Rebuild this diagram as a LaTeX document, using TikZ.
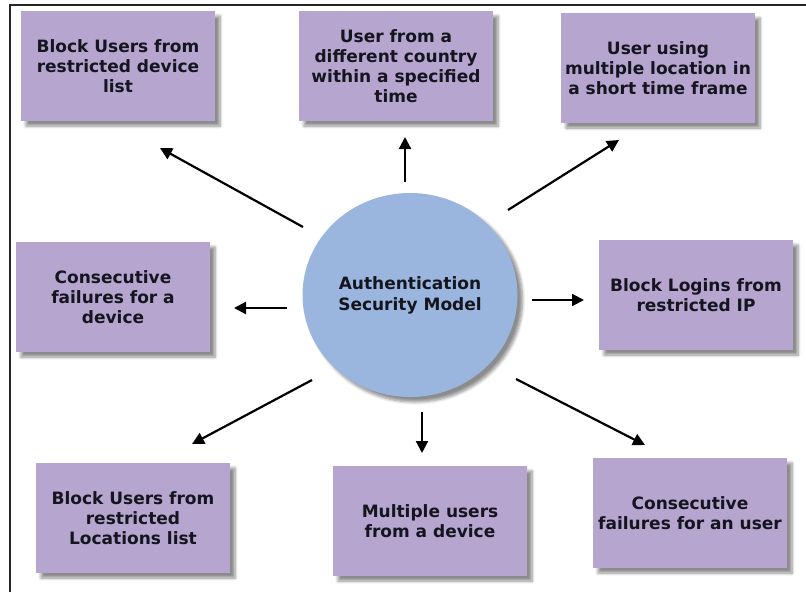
\documentclass[tikz,border=0pt]{standalone}
\usepackage{fontspec}
\setmainfont{DejaVu Sans}
\usetikzlibrary{arrows.meta,shadows.blur,shapes.geometric}
\definecolor{boxfill}{HTML}{B5A5CF}
\definecolor{circfill}{HTML}{9AB6DE}
\definecolor{txt}{HTML}{15151F}
\tikzset{
  box/.style={rectangle, fill=boxfill, minimum width=194pt, minimum height=110pt,
    inner sep=0pt, align=center, font=\bfseries\fontsize{17}{20}\selectfont, text=txt,
    blur shadow={shadow xshift=5pt, shadow yshift=-5pt, shadow blur steps=6, shadow opacity=45, shadow blur radius=3pt}},
  hub/.style={ellipse, fill=circfill, minimum width=215pt, minimum height=204pt,
    inner sep=0pt, align=center, font=\bfseries\fontsize{17}{21}\selectfont, text=txt,
    blur shadow={shadow xshift=5pt, shadow yshift=-5pt, shadow blur steps=6, shadow opacity=45, shadow blur radius=3pt}},
  arr/.style={line width=2.2pt, -{Triangle[length=12pt,width=12pt]}},
  frame/.style={line width=1.4pt, black!85}
}
\begin{document}
\begin{tikzpicture}[x=1pt,y=-1pt]
\useasboundingbox (0,0) rectangle (806,592);
\draw[frame] (10,592) coordinate (fa) -- (10,5) coordinate (fb) -- (806,5) coordinate (fc);
\node[hub] (c) at (410,295) {Authentication\\Security Model};
\node[box] (b1) at (118,66) {Block Users from\\restricted device\\list};
\node[box] (b2) at (396,66) {User from a\\different country\\within a specified\\time};
\node[box] (b3) at (658,68) {User using\\multiple location in\\a short time frame};
\node[box] (b4) at (113,297) {Consecutive\\failures for a\\device};
\node[box] (b5) at (696,295) {Block Logins from\\restricted IP};
\node[box] (b6) at (133,518) {Block Users from\\restricted\\Locations list};
\node[box] (b7) at (430,521) {Multiple users\\from a device};
\node[box] (b8) at (690,513) {Consecutive\\failures for an user};
\coordinate (t1) at (303,227); \coordinate (h1) at (160,148);
\coordinate (t2) at (405,182); \coordinate (h2) at (405,137);
\coordinate (t3) at (508,210); \coordinate (h3) at (619,140);
\coordinate (t4) at (287,308); \coordinate (h4) at (234,308);
\coordinate (t5) at (532,300); \coordinate (h5) at (584,300);
\coordinate (t6) at (312,380); \coordinate (h6) at (192,444);
\coordinate (t7) at (422,412); \coordinate (h7) at (422,453);
\coordinate (t8) at (516,379); \coordinate (h8) at (645,445);
\foreach \i in {1,...,8} {\draw[arr] (t\i) -- (h\i);}
\end{tikzpicture}
\end{document}
